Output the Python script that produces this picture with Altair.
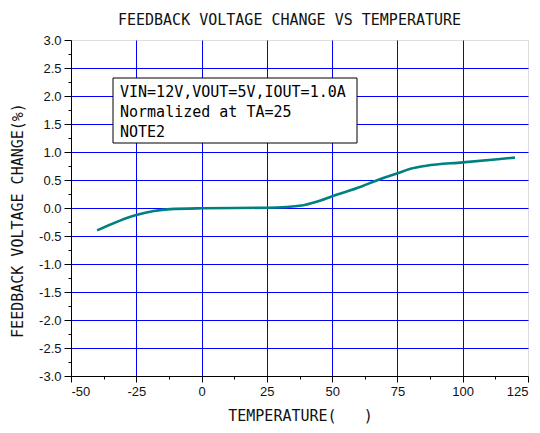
import altair as alt
import pandas as pd

temps = [-40, -25, -12, 0, 25, 39, 44, 50, 61, 68, 75, 80, 86, 100, 120]
changes = [-0.40, -0.125, -0.02, -0.005, 0.005, 0.05, 0.11, 0.21, 0.38, 0.51, 0.62, 0.70, 0.755, 0.815, 0.90]

x_ticks = [-50 + 12.5 * i for i in range(15)]
y_ticks = [-3 + 0.25 * i for i in range(25)]

note_lines = ["VIN=12V,VOUT=5V,IOUT=1.0A", "Normalized at TA=25", "NOTE2"]

df = pd.DataFrame({"t": temps, "v": changes})

MONO = "DejaVu Sans Mono"
LAB = "Liberation Sans"

xaxis = alt.Axis(
    values=x_ticks,
    labelExpr="datum.value % 25 == 0 ? replace(format(datum.value, 'd'), '\u2212', '-') : ''",
    grid=True,
    gridColor="#0000ff",
    gridWidth=1,
    gridOpacity={"condition": {"test": "datum.value % 25 == 0 && datum.value > -50 && datum.value < 125", "value": 1}, "value": 0},
    tickSize={"condition": {"test": "datum.value % 25 == 0", "value": 6}, "value": 3},
    tickColor="black",
    domainColor="black",
    labelFont=LAB,
    labelFontSize=13,
    labelColor="#111111",
    labelPadding=3,
    title="TEMPERATURE(\u00a0\u00a0\u00a0)",
    titleFont=MONO,
    titleFontSize=15,
    titleFontWeight="normal",
    titleColor="#111111",
    titleX=229,
    titleY=39,
    titleAlign="center",
    titleBaseline="middle",
)

yaxis = alt.Axis(
    values=y_ticks,
    labelExpr="datum.value % 0.5 == 0 ? replace(format(datum.value, '.1f'), '\u2212', '-') : ''",
    grid=True,
    gridColor="#0000ff",
    gridWidth=1,
    gridOpacity={"condition": {"test": "datum.value % 0.5 == 0 && datum.value > -3 && datum.value < 3", "value": 1}, "value": 0},
    tickSize={"condition": {"test": "datum.value % 0.5 == 0", "value": 7}, "value": 3},
    tickColor="black",
    domainColor="black",
    labelFont=LAB,
    labelFontSize=13,
    labelColor="#111111",
    labelPadding=3,
    title="FEEDBACK VOLTAGE CHANGE(%)",
    titleFont=MONO,
    titleFontSize=15,
    titleFontWeight="normal",
    titleColor="#111111",
    titleAngle=-90,
    titleX=-54,
    titleY=180,
    titleAlign="center",
    titleBaseline="middle",
)

line = alt.Chart(df).mark_line(color="#008080", strokeWidth=2.6, interpolate="monotone").encode(
    x=alt.X("t:Q", scale=alt.Scale(domain=[-50, 125], nice=False, zero=False), axis=xaxis),
    y=alt.Y("v:Q", scale=alt.Scale(domain=[-3, 3], nice=False, zero=False), axis=yaxis),
)

box = alt.Chart(pd.DataFrame({"a": [0]})).mark_rect(fill="white", stroke="black", strokeWidth=1).encode(
    x=alt.value(42), x2=alt.value(286), y=alt.value(38), y2=alt.value(103)
)

notes_df = pd.DataFrame({"txt": note_lines, "i": [0, 1, 2]})
notes = alt.Chart(notes_df).mark_text(
    font=MONO, fontSize=15, align="left", baseline="middle", color="black"
).encode(
    x=alt.value(49),
    y=alt.Y("i:Q", scale=alt.Scale(domain=[0, 2], range=[52, 92], nice=False, zero=False), axis=None),
    text="txt:N",
)

chart = alt.layer(line, box, notes).resolve_scale(y="independent").properties(
    width=457,
    height=336,
    autosize=alt.AutoSizeParams(type="none"),
    padding={"left": 63, "top": 32, "right": 4, "bottom": 49},
    title=alt.Title(
        "FEEDBACK VOLTAGE CHANGE VS TEMPERATURE",
        font=MONO,
        fontSize=15,
        fontWeight="normal",
        color="#111111",
        anchor="middle",
        offset=6,
        dx=-10,
    ),
).configure_view(stroke="black", strokeWidth=1).configure(background="white")

chart.save("out.html", embed_options={"renderer": "svg", "actions": False})
